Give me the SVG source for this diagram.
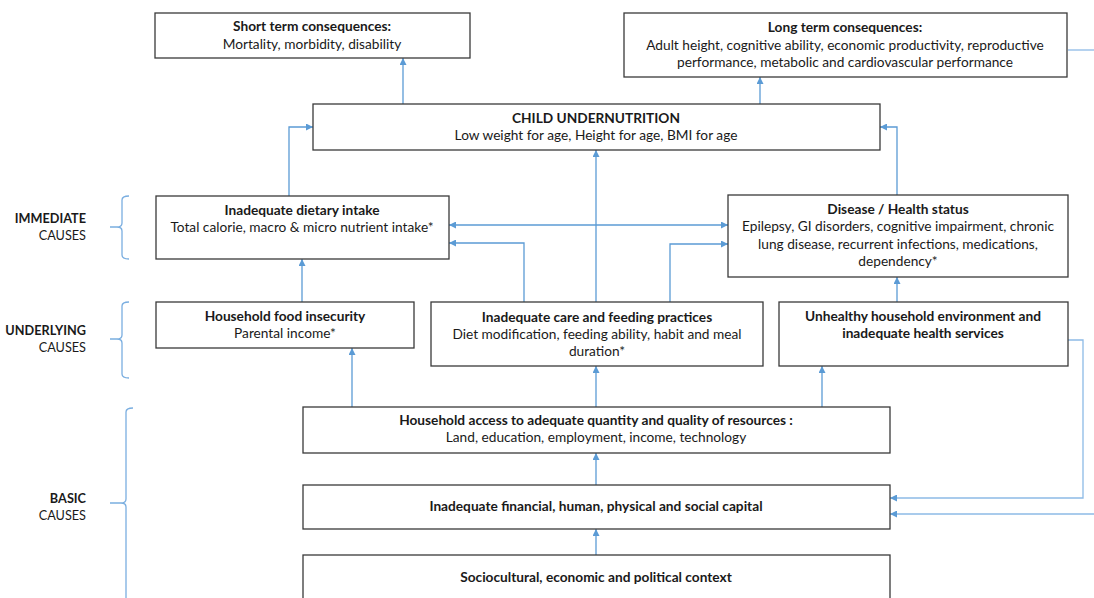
<svg xmlns="http://www.w3.org/2000/svg" width="1094" height="598" viewBox="0 0 1094 598">
<defs>
<style>
.box{fill:#fff;stroke:#3a3a3a;stroke-width:1.3}
text{font-family:Lato,"Liberation Sans",sans-serif;font-size:13.7px;fill:#1a1a1a;text-anchor:middle}
.b{font-weight:bold}
.lab{text-anchor:end;font-size:12.7px}
.c{fill:none;stroke:#5B9BD5;stroke-width:1.3}
.br{fill:none;stroke:#7AAEE0;stroke-width:1.3}
</style>
<marker id="ah" viewBox="0 0 10 10" refX="10" refY="5" markerWidth="7" markerHeight="7" markerUnits="userSpaceOnUse" orient="auto-start-reverse">
<path d="M0,0 L10,5 L0,10 z" fill="#5B9BD5"/>
</marker>
</defs>
<rect width="1094" height="598" fill="#fff"/>

<g id="labels">
<text class="lab b" x="86" y="223">IMMEDIATE</text>
<text class="lab" x="86" y="240">CAUSES</text>
<text class="lab b" x="86" y="335">UNDERLYING</text>
<text class="lab" x="86" y="352">CAUSES</text>
<text class="lab b" x="86" y="503">BASIC</text>
<text class="lab" x="86" y="520">CAUSES</text>
<path class="br" d="M129,196 Q122,196 122,200 L122,223 Q122,227 117,227 L110,227 M117,227 Q122,227 122,231 L122,255 Q122,259 129,259"/>
<path class="br" d="M129,302 Q122,302 122,306 L122,335 Q122,339 117,339 L110,339 M117,339 Q122,339 122,343 L122,374 Q122,378 129,378"/>
<path class="br" d="M133,408 Q126,408 126,412 L126,499 Q126,503 121,503 L110,503 M121,503 Q126,503 126,507 L126,598"/>
</g>

<g id="connectors">
<path class="c" d="M403,104 V58" marker-end="url(#ah)"/>
<path class="c" d="M760,104 V77" marker-end="url(#ah)"/>
<path class="c" d="M289,196 V127 H313" marker-end="url(#ah)"/>
<path class="c" d="M897,195 V127 H880" marker-end="url(#ah)"/>
<path class="c" d="M596,302 V150" marker-end="url(#ah)"/>
<path class="c" d="M449,225 H728" marker-start="url(#ah)" marker-end="url(#ah)"/>
<path class="c" d="M524,302 V243 H449" marker-end="url(#ah)"/>
<path class="c" d="M670,302 V244 H728" marker-end="url(#ah)"/>
<path class="c" d="M302,302 V259" marker-end="url(#ah)"/>
<path class="c" d="M897,302 V277" marker-end="url(#ah)"/>
<path class="c" d="M352,407 V348" marker-end="url(#ah)"/>
<path class="c" d="M596,407 V366" marker-end="url(#ah)"/>
<path class="c" d="M822,407 V366" marker-end="url(#ah)"/>
<path class="c" d="M596,485 V453" marker-end="url(#ah)"/>
<path class="c" d="M596,555 V529" marker-end="url(#ah)"/>
<path class="c" d="M1068,340 H1083 V498 H890" marker-end="url(#ah)" style="stroke:#8DBAE6"/>
<path class="c" d="M1068,50 H1094" style="stroke:#8DBAE6"/>
<path class="c" d="M1094,514 H890" marker-end="url(#ah)" style="stroke:#8DBAE6"/>
</g>

<g id="short-term">
<rect class="box" x="155" y="13" width="315" height="45"/>
<text class="b" x="312" y="31">Short term consequences:</text>
<text x="312" y="49">Mortality, morbidity, disability</text>
</g>

<g id="long-term">
<rect class="box" x="624" y="13" width="443" height="64"/>
<text class="b" x="845" y="32">Long term consequences:</text>
<text x="845" y="50">Adult height, cognitive ability, economic productivity, reproductive</text>
<text x="845" y="67">performance, metabolic and cardiovascular performance</text>
</g>

<g id="child-undernutrition">
<rect class="box" x="313" y="104" width="567" height="46"/>
<text class="b" x="596" y="123">CHILD UNDERNUTRITION</text>
<text x="596" y="140">Low weight for age, Height for age, BMI for age</text>
</g>

<g id="dietary-intake">
<rect class="box" x="156" y="196" width="293" height="63"/>
<text class="b" x="302" y="215">Inadequate dietary intake</text>
<text x="302" y="232">Total calorie, macro &amp; micro nutrient intake*</text>
</g>

<g id="disease">
<rect class="box" x="728" y="195" width="340" height="82"/>
<text class="b" x="898" y="214">Disease / Health status</text>
<text x="898" y="231">Epilepsy, GI disorders, cognitive impairment, chronic</text>
<text x="898" y="249">lung disease, recurrent infections, medications,</text>
<text x="898" y="266">dependency*</text>
</g>

<g id="food-insecurity">
<rect class="box" x="156" y="302" width="258" height="46"/>
<text class="b" x="285" y="321">Household food insecurity</text>
<text x="285" y="338">Parental income*</text>
</g>

<g id="care-feeding">
<rect class="box" x="431" y="302" width="332" height="64"/>
<text class="b" x="597" y="322">Inadequate care and feeding practices</text>
<text x="597" y="339">Diet modification, feeding ability, habit and meal</text>
<text x="597" y="356">duration*</text>
</g>

<g id="unhealthy-environment">
<rect class="box" x="779" y="302" width="289" height="64"/>
<text class="b" x="923" y="321">Unhealthy household environment and</text>
<text class="b" x="923" y="338">inadequate health services</text>
</g>

<g id="household-access">
<rect class="box" x="303" y="407" width="587" height="46"/>
<text class="b" x="596" y="425">Household access to adequate quantity and quality of resources :</text>
<text x="596" y="442">Land, education, employment, income, technology</text>
</g>

<g id="capital">
<rect class="box" x="303" y="485" width="587" height="44"/>
<text class="b" x="596" y="511">Inadequate financial, human, physical and social capital</text>
</g>

<g id="context">
<rect class="box" x="303" y="555" width="587" height="60"/>
<text class="b" x="596" y="582">Sociocultural, economic and political context</text>
</g>
</svg>
